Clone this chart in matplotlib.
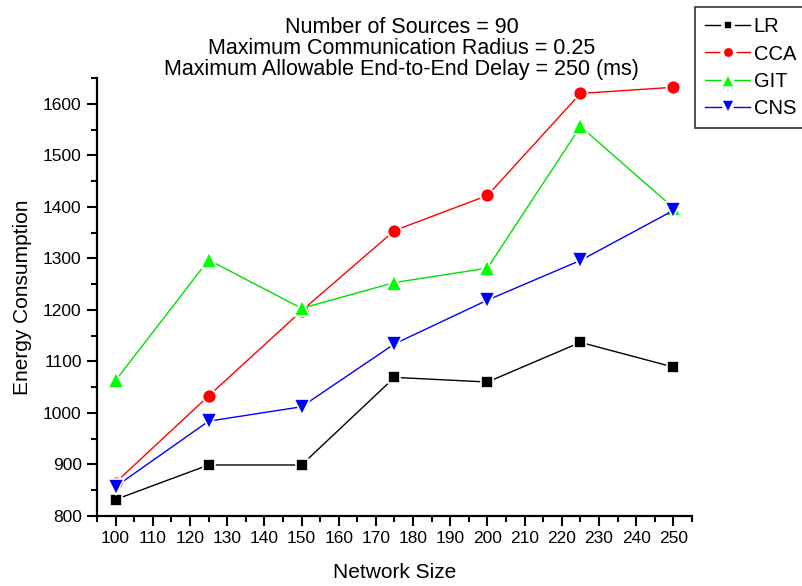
import matplotlib
matplotlib.use("Agg")
import matplotlib.pyplot as plt
from matplotlib.ticker import MultipleLocator

plt.rcParams['font.family'] = ['Liberation Sans', 'DejaVu Sans']

network_size = [100, 125, 150, 175, 200, 225, 250]
lr = [832, 899, 899, 1069, 1060, 1137, 1089]
cca = [865, 1033, 1198, 1354, 1422, 1620, 1632]
git = [1063, 1297, 1203, 1253, 1281, 1556, 1398]
cns = [857, 984, 1012, 1134, 1219, 1296, 1393]

# name, values, line colour, marker colour, marker, plot size, legend size
series = [
    ("LR", lr, "black", "black", "s", 9, 7.5),
    ("CCA", cca, "red", "red", "o", 10, 9),
    ("GIT", git, "#00e000", "#00ff00", "^", 11, 11),
    ("CNS", cns, "blue", "blue", "v", 11, 11),
]

fig = plt.figure(figsize=(8.03, 5.86), dpi=100)
ax = fig.add_axes([97 / 803, 1 - 516 / 586, (692 - 97) / 803, (516 - 78) / 586])

for name, vals, color, mc, marker, ms, _ in series:
    ax.plot(network_size, vals, color=color, lw=1.0, marker=marker, ms=ms,
            markerfacecolor=mc, markeredgecolor="white", markeredgewidth=1.2,
            label=name)

ax.set_xlim(95, 255)
ax.set_ylim(800, 1650)
ax.xaxis.set_major_locator(MultipleLocator(10))
ax.xaxis.set_minor_locator(MultipleLocator(5))
ax.yaxis.set_major_locator(MultipleLocator(100))
ax.yaxis.set_minor_locator(MultipleLocator(50))

for side in ("top", "right"):
    ax.spines[side].set_visible(False)
for side in ("left", "bottom"):
    ax.spines[side].set_linewidth(1.6)

ax.tick_params(axis="both", which="major", direction="out", length=7, width=1.5,
               labelsize=12.5, pad=4)
ax.tick_params(axis="both", which="minor", direction="out", length=4, width=1.5)

ax.set_xlabel("Network Size", fontsize=15, labelpad=12)
ax.set_ylabel("Energy Consumption", fontsize=15, labelpad=8)

fig.text(0.5, 1 - 17 / 586,
         "Number of Sources = 90\nMaximum Communication Radius = 0.25\n"
         "Maximum Allowable End-to-End Delay = 250 (ms)",
         ha="center", va="top", fontsize=15.5, linespacing=1.0)

leg = fig.legend(loc="upper left", bbox_to_anchor=(695 / 803, 1 - 7 / 586),
                 fontsize=14.5, frameon=True, fancybox=False, edgecolor="black",
                 numpoints=1, handlelength=2.2, handletextpad=0.2,
                 borderpad=0.52, labelspacing=0.4, borderaxespad=0)
leg.get_frame().set_linewidth(1.2)
for h, s in zip(leg.legend_handles, series):
    h.set_markersize(s[6])
    h.set_markeredgewidth(2.6)

fig.savefig("out.png", dpi=100)
